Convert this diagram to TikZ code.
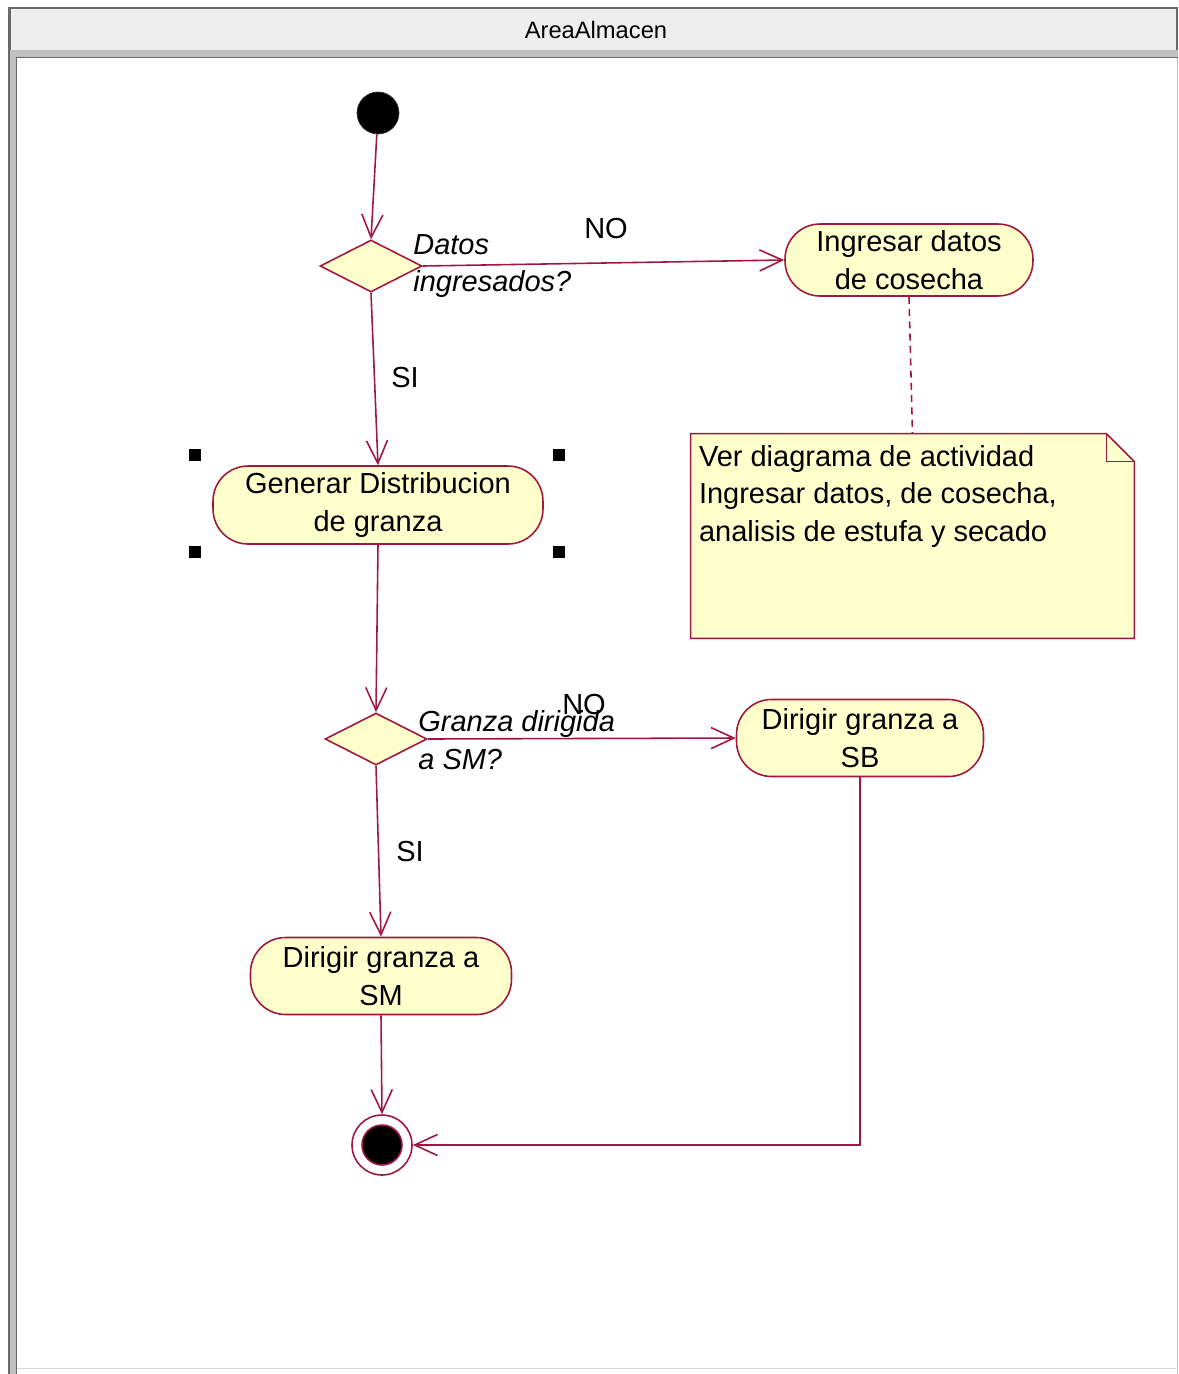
\documentclass[tikz,border=0pt]{standalone}
\usepackage{fontspec}
\setmainfont{Liberation Sans}
\definecolor{umlline}{RGB}{160,24,64}
\definecolor{umlfill}{RGB}{255,255,204}
\definecolor{winframe}{RGB}{105,105,105}
\definecolor{wintitle}{RGB}{238,238,238}
\usetikzlibrary{arrows.meta,calc,positioning,shapes.geometric}

\begin{document}
\begin{tikzpicture}[
    x=0.02cm, y=-0.02cm,
    >={Straight Barb[length=13pt,width=12pt]},
    % Define styles
    activity/.style={rectangle, draw=umlline, fill=umlfill, line width=0.9pt, rounded corners=0.7cm, align=center, inner sep=0pt},
    decision/.style={diamond, draw=umlline, fill=umlfill, line width=0.9pt, minimum width=2.04cm, minimum height=1.04cm, inner sep=0pt},
    initial/.style={circle, fill=black, draw=black!80, minimum size=0.84cm, inner sep=0pt},
    final/.style={circle, draw=umlline, fill=white, line width=0.9pt, minimum size=1.2cm, inner sep=0pt,
        path picture={\draw[umlline, fill=black, line width=0.9pt] (path picture bounding box.center) circle (0.4cm);}},
    flow/.style={->, umlline, line width=0.9pt},
    anchorline/.style={umlline, line width=0.9pt, dash pattern=on 4pt off 3pt},
    guard/.style={font=\fontsize{16.5}{21.6}\itshape\selectfont, align=left, anchor=west, inner sep=0pt},
    % Font
    font=\fontsize{16.5}{21.6}\selectfont
]
\useasboundingbox (0,0) rectangle (1178,1374);

% Window frame
\fill[white] (0,0) rectangle (1178,1374);
\fill[winframe] (8,7) rectangle (1178,58);
\fill[winframe] (8,7) rectangle (17,1374);
\fill[gray!50] (10,50) rectangle (1178,57);
\fill[gray!50] (10,50) rectangle (16,1374);
\fill[wintitle] (11,9) rectangle (1176,50);
\draw[umlline!35] (1177,58) -- (1177,1374);
\draw[gray!30] (17,1368) -- (1176,1368);
\node[font=\fontsize{13.5}{16}\selectfont] (titulo) at (596,30) {AreaAlmacen};

% Start and first decision
\node[initial] (inicio) at (378,113) {};
\node[decision] (dec1) at (371,266) {};
\node[guard] (g1) at (413,266) {Datos\\ingresados?};
\node (no1) at (606,229) {NO};
\node (si1) at (405,378) {SI};

% Activities
\node[activity, minimum width=4.96cm, minimum height=1.44cm] (ingresar) at (909,260) {Ingresar datos\\de cosecha};
\node[activity, minimum width=6.6cm, minimum height=1.56cm] (gen) at (378,505) {Generar Distribucion\\de granza};

% Selection handles
\foreach \a/\dx/\dy in {north west/-17/-10, north east/15/-10, south west/-17/7, south east/15/7}
    \fill[black] ($(gen.\a)+(\dx,\dy)$) ++(-6,-6) rectangle ++(12,12);

% Note
\node[rectangle, minimum width=8.86cm, minimum height=4.08cm, inner sep=0pt] (nota) at (912.5,536) {};
\draw[umlline, fill=umlfill, line width=0.9pt] (nota.north west) -- ($(nota.north east)+(-28,0)$)
    -- ($(nota.north east)+(0,28)$) -- (nota.south east) -- (nota.south west) -- cycle;
\draw[umlline, line width=0.9pt] ($(nota.north east)+(-28,0)$) -- ($(nota.north east)+(-28,28)$) -- ($(nota.north east)+(0,28)$);
\node[anchor=north west, align=left, inner sep=0pt] (notatexto) at ($(nota.north west)+(8,11)$)
    {Ver diagrama de actividad\\Ingresar datos, de cosecha,\\analisis de estufa y secado};

% Second decision
\node[decision] (dec2) at (376,739) {};
\node[guard] (g2) at (418,740) {Granza dirigida\\a SM?};
\node (no2) at (584,705) {NO};
\node (si2) at (410,852) {SI};
\node[activity, minimum width=4.94cm, minimum height=1.54cm] (sb) at (860,738) {Dirigir granza a\\SB};
\node[activity, minimum width=5.22cm, minimum height=1.54cm] (sm) at (381,976) {Dirigir granza a\\SM};

% End
\node[final] (fin) at (382,1145) {};

% Connections
\draw[flow] (inicio) -- (dec1.north);
\draw[flow] (dec1.east) -- (ingresar.west);
\draw[anchorline] (ingresar.south) -- (nota.north);
\draw[flow] (dec1.south) -- (gen.north);
\draw[flow] (gen.south) -- (dec2.north);
\draw[flow] (dec2.east) -- (sb.west);
\draw[flow] (dec2.south) -- (sm.north);
\draw[flow] (sm.south) -- (fin.north);
\draw[flow] (sb.south) |- (fin.east);

\end{tikzpicture}
\end{document}
